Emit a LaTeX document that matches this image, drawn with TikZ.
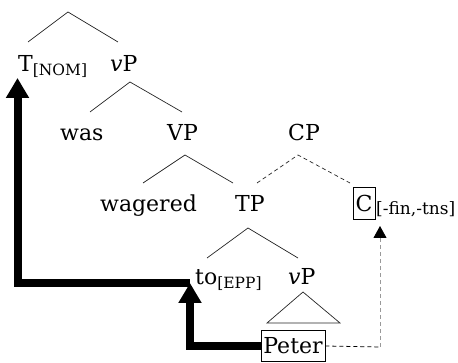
\documentclass[tikz,border=0pt]{standalone}
\usepackage{fontspec}
\setmainfont{DejaVu Serif}
\usetikzlibrary{arrows.meta}
\newcommand\sbx[1]{\raisebox{-3.5pt}{\fontsize{15.5}{16}\selectfont #1}}
\begin{document}
\begin{tikzpicture}[x=1pt,y=-1pt,
  lbl/.style={inner sep=0pt, anchor=base west, font=\fontsize{22}{26}\selectfont},
  feat/.style={inner sep=0pt, anchor=base west, font=\fontsize{17}{20}\selectfont},
  boxed/.style={draw, line width=0.8pt, inner sep=0pt, font=\fontsize{22}{26}\selectfont},
  branch/.style={line width=0.7pt, black!85},
  dbranch/.style={line width=0.7pt, black!85, dash pattern=on 4pt off 3pt},
  movearrow/.style={line width=8pt, line join=miter, -{Triangle[width=22pt,length=20pt]}},
  agree/.style={line width=0.8pt, dash pattern=on 4pt off 3pt}]
\useasboundingbox (0,0) rectangle (458,363);
% nodes
\node[lbl] (T) at (18,72) {T\sbx{[NOM]}};
\node[lbl] (vP1) at (110,72) {\textit{v}P};
\node[lbl] (was) at (60,141) {was};
\node[lbl] (VP) at (167,141) {VP};
\node[lbl] (CP) at (288,141) {CP};
\node[lbl] (wagered) at (100,212) {wagered};
\node[lbl] (TP) at (235,212) {TP};
\node[boxed, minimum width=22pt, minimum height=32pt] (C) at (364,203) {C};
\node[feat] (cfeat) at (376,215) {[-fin,-tns]};
\node[lbl] (to) at (195,285) {to\sbx{[EPP]}};
\node[lbl] (vP2) at (288,285) {\textit{v}P};
\node[boxed, minimum width=64pt, minimum height=31pt] (Peter) at (293,346) {Peter};
% branch points
\coordinate (r) at (68,12);
\coordinate (rl) at (28,42);
\coordinate (rr) at (118,42);
\coordinate (v) at (130,82);
\coordinate (vl) at (90,112);
\coordinate (vr) at (182,112);
\coordinate (V) at (185,155);
\coordinate (Vl) at (143,183);
\coordinate (Vr) at (233,183);
\coordinate (c) at (298,155);
\coordinate (cl) at (257,183);
\coordinate (cr) at (350,183);
\coordinate (t) at (248,228);
\coordinate (tl) at (207,258);
\coordinate (tr) at (298,258);
\coordinate (tri) at (303,292);
\coordinate (tril) at (267,323);
\coordinate (trir) at (340,323);
\coordinate (toarr) at (190,283);
\coordinate (Tarr) at (17.5,78);
\coordinate (corner) at (380,347);
\coordinate (Carr) at (380,226);
% tree
\draw[branch] (rl) -- (r) -- (rr);
\draw[branch] (vl) -- (v) -- (vr);
\draw[branch] (Vl) -- (V) -- (Vr);
\draw[dbranch] (cl) -- (c) -- (cr);
\draw[branch] (tl) -- (t) -- (tr);
\draw[branch] (tril) -- (tri) -- (trir) -- cycle;
% movement
\draw[movearrow] (Peter.west) -| (toarr);
\draw[movearrow] (toarr) -| (Tarr);
% agree
\draw[agree] (Peter.east) -- (corner);
\draw[agree, black!40, -{Triangle[width=13pt,length=12pt,black]}] (corner) -- (Carr);
\end{tikzpicture}
\end{document}
